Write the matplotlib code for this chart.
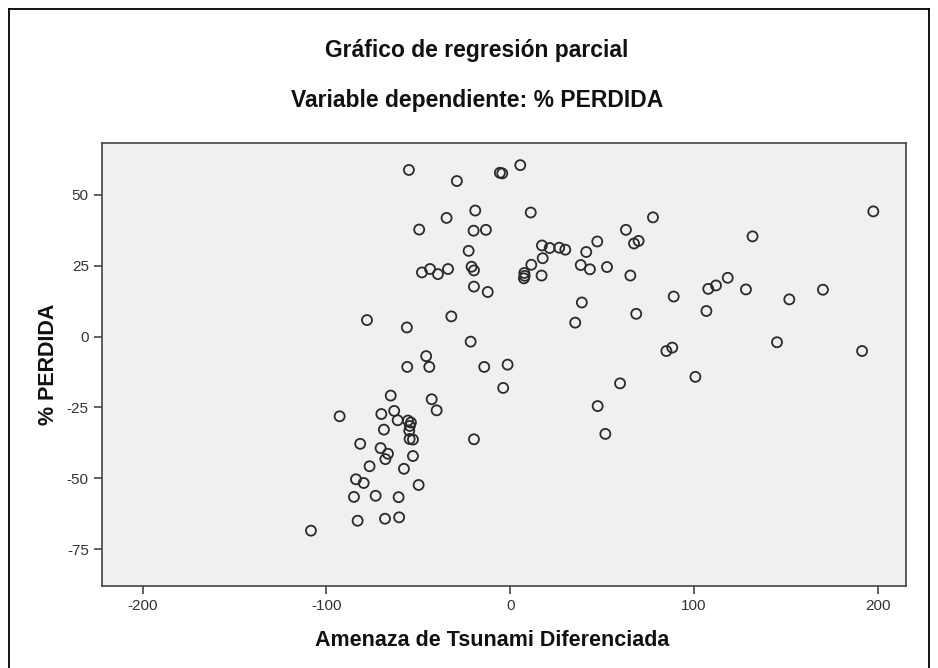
import matplotlib.pyplot as plt
from matplotlib.lines import Line2D

plt.rcParams['font.family'] = ['Liberation Sans', 'DejaVu Sans']
plt.rcParams['axes.unicode_minus'] = False

# residuals: amenaza de tsunami (x) vs % perdida (y)
amenaza = [-55.1, -29.0, -5.6, -4.3, 5.5, -19.0, -34.6, 11.2, -49.5, -19.9,
           -13.2, -22.6, 17.3, 21.5, 26.7, 30.0, 17.7, 11.5, 41.4, 47.4,
           38.4, 43.4, -48.0, -43.6, -39.3, -33.8, -21.0, -19.7, 7.7, 7.9,
           7.5, 17.1, -19.7, -12.2, 39.0, 35.4, -77.9, -56.2, -32.0, -21.5,
           -45.7,
           52.7, 63.0, 77.7, 67.4, 69.9, 65.4, 131.9, 197.6, 89.0, 107.8,
           112.0, 118.4, 128.3, 151.9, 170.2, 68.6, 106.8, 85.0, 88.2, 145.2,
           191.5,
           59.8, 100.8, 47.6, 51.8,
           -56.0, -44.0, -14.1, -1.4, -3.8, -65.0, -42.7, -40.0, -92.8, -70.1,
           -63.1, -61.2, -55.6, -54.0, -54.6, -68.7, -54.9, -54.7, -52.9, -19.7,
           -81.6, -70.5, -66.5, -67.9, -52.9, -76.5, -57.8, -83.9, -79.7, -49.8,
           -85.0, -73.2, -60.7, -83.0, -68.1, -60.4, -108.4]
perdida = [58.7, 54.8, 57.7, 57.5, 60.4, 44.4, 41.8, 43.7, 37.7, 37.3,
           37.6, 30.2, 32.1, 31.2, 31.3, 30.6, 27.6, 25.3, 29.8, 33.5,
           25.2, 23.7, 22.6, 23.8, 22.0, 23.8, 24.6, 23.3, 22.4, 21.4,
           20.5, 21.5, 17.6, 15.7, 12.0, 4.9, 5.8, 3.2, 7.1, -1.8,
           -6.9,
           24.5, 37.6, 42.0, 32.8, 33.7, 21.5, 35.3, 44.1, 14.1, 16.8,
           18.0, 20.7, 16.6, 13.1, 16.5, 8.0, 9.0, -5.1, -3.9, -2.0,
           -5.1,
           -16.5, -14.2, -24.5, -34.3,
           -10.7, -10.7, -10.7, -9.9, -18.1, -20.8, -22.1, -26.0, -28.1, -27.3,
           -26.2, -29.5, -29.6, -30.3, -31.5, -32.8, -33.2, -36.1, -36.3, -36.2,
           -37.8, -39.3, -41.3, -43.2, -42.1, -45.7, -46.6, -50.3, -51.6, -52.3,
           -56.5, -56.1, -56.6, -64.9, -64.2, -63.7, -68.4]

xticks = [-200, -100, 0, 100, 200]
yticks = [-75, -50, -25, 0, 25, 50]

W, H = 938, 668
fig = plt.figure(figsize=(W / 100, H / 100), dpi=100)

# outer frame
for xs, ys in [([9, 9], [0, 659]), ([9, 929], [659, 659]), ([929, 929], [659, 0])]:
    fig.add_artist(Line2D([x / W for x in xs], [y / H for y in ys], color='black', lw=1.3))

left, right, top, bottom = 102, 906, 143, 586
ax = fig.add_axes([left / W, (H - bottom) / H, (right - left) / W, (bottom - top) / H])
ax.set_facecolor('#f0f0f0')

ax.scatter(amenaza, perdida, s=52, facecolors='none', edgecolors='#2a2a2a', linewidths=1.3, zorder=3)

ax.set_xlim(-222.1, 215.4)
ax.set_ylim(-87.9, 68.2)
ax.set_xticks(xticks)
ax.set_yticks(yticks)
ax.tick_params(direction='out', length=6, width=1.2, color='#444444', labelcolor='#333333', labelsize=11)
for s in ax.spines.values():
    s.set_color('#444444')
    s.set_linewidth(1.2)

fig.text(477 / W, 1 - 50 / H, 'Gráfico de regresión parcial', ha='center', va='center', fontsize=16.5, fontweight='bold', color='#111111')
fig.text(477 / W, 1 - 100 / H, 'Variable dependiente: % PERDIDA', ha='center', va='center', fontsize=16.5, fontweight='bold', color='#111111')
fig.text(492 / W, 1 - 640 / H, 'Amenaza de Tsunami Diferenciada', ha='center', va='center', fontsize=15.5, fontweight='bold', color='#111111')
fig.text(48 / W, 1 - 364 / H, '% PERDIDA', ha='center', va='center', rotation=90, fontsize=15.5, fontweight='bold', color='#111111')

plt.savefig('out.png', dpi=100)
